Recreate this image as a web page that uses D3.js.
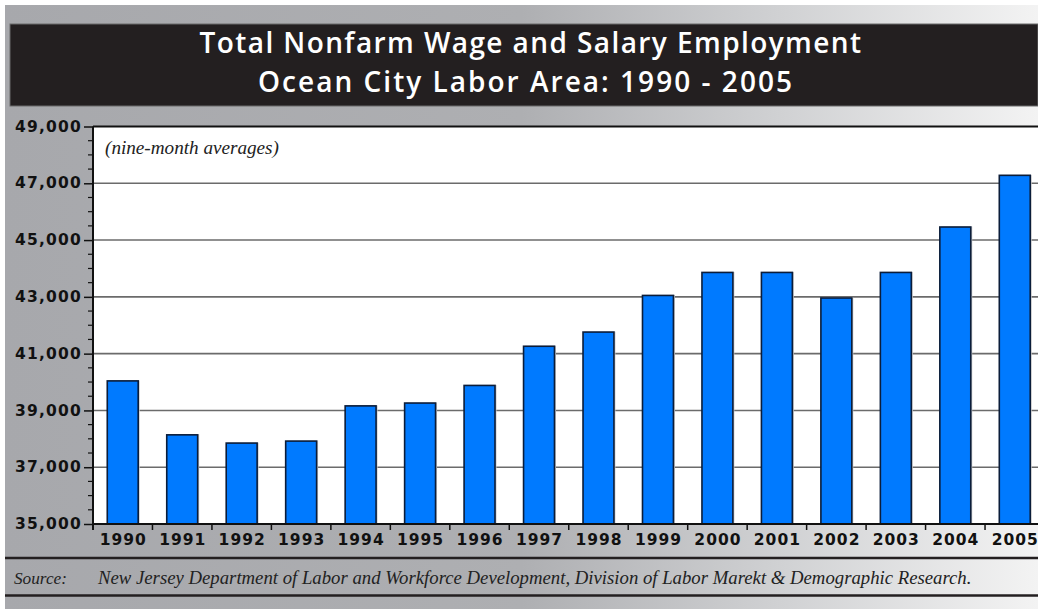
<!DOCTYPE html>
<html><head><meta charset="utf-8">
<script src="https://cdn.jsdelivr.net/npm/d3@7"></script>
<style>body{margin:0;background:#fff;overflow:hidden}svg{display:block}</style>
</head><body><svg id="c" width="1038" height="609"></svg>
<script>
const years = ["1990","1991","1992","1993","1994","1995","1996","1997","1998","1999","2000","2001","2002","2003","2004","2005"];
const employment = [40040, 38140, 37850, 37920, 39160, 39260, 39880, 41260, 41760, 43050, 43860, 43860, 42960, 43860, 45460, 47280];
const yTicks = [35000, 37000, 39000, 41000, 43000, 45000, 47000, 49000];
const titleLines = ["Total Nonfarm Wage and Salary Employment", "Ocean City Labor Area: 1990 - 2005"];
const noteText = "(nine-month averages)";
const sourceLabel = "Source:";
const sourceText = "New Jersey Department of Labor and Workforce Development, Division of Labor Marekt & Demographic Research.";

const svg = d3.select("#c");
const W = 1038, H = 609;
const plot = {left: 93, top: 126.5, right: 1044.5, bottom: 524};

function fit(el, base, target){
  const w = el.node().getComputedTextLength();
  el.attr("font-size", base*target/w);
}
function spread(el, target){
  const n = el.text().length;
  const w = el.node().getComputedTextLength();
  el.attr("letter-spacing", ((target - w)/n) + "px");
}

// background gradient
const defs = svg.append("defs");
const grad = defs.append("linearGradient").attr("id","bg").attr("x1","0%").attr("x2","100%").attr("y1","0").attr("y2","0");
grad.append("stop").attr("offset","0%").attr("stop-color","#a7a8ac");
grad.append("stop").attr("offset","50%").attr("stop-color","#aeafb2");
grad.append("stop").attr("offset","75%").attr("stop-color","#d0d1d3");
grad.append("stop").attr("offset","100%").attr("stop-color","#f3f3f3");
svg.append("rect").attr("x",5).attr("y",5).attr("width",W-5).attr("height",H-5).attr("fill","url(#bg)");

// title box
svg.append("rect").attr("x",10).attr("y",24).attr("width",W-10).attr("height",82)
  .attr("fill","#231f20").attr("stroke","#6a6a6a").attr("stroke-width",1);
const tt = svg.append("g").attr("font-family","'Open Sans', Lato, sans-serif").attr("font-weight",600).attr("fill","#fff").attr("text-anchor","middle");
const titleTargets = [663, 536];
const titleBase = [53, 92];
const titleCx = [531, 526];
titleLines.forEach((t,i)=>{
  const el = tt.append("text").attr("x",titleCx[i]).attr("y",titleBase[i]).attr("font-size",28).text(t);
  spread(el, titleTargets[i]);
});

// scales
const x = d3.scaleBand().domain(years).range([plot.left, plot.right]).paddingInner(0.48).paddingOuter(0.24);
const y = d3.scaleLinear().domain([35000, 49000]).range([plot.bottom, plot.top]);

// plot area
svg.append("rect").attr("x",plot.left).attr("y",plot.top).attr("width",W-plot.left).attr("height",plot.bottom-plot.top).attr("fill","#fff");

// gridlines
svg.append("g").selectAll("line").data(yTicks.filter(d=>d>35000 && d<49000)).join("line")
  .attr("x1",plot.left).attr("x2",W).attr("y1",d=>y(d)).attr("y2",d=>y(d))
  .attr("stroke","#6b6b6b").attr("stroke-width",1.6);
// top border
svg.append("line").attr("x1",plot.left).attr("x2",W).attr("y1",y(49000)).attr("y2",y(49000)).attr("stroke","#111").attr("stroke-width",2);

// note
const note = svg.append("text").attr("x",105).attr("y",154).attr("font-family","'Liberation Serif', serif").attr("font-style","italic")
  .attr("font-size",17).attr("fill","#222").text(noteText);
fit(note, 17, 174);

// bars
const bars = svg.append("g");
bars.selectAll("rect.sh").data(years).join("rect").attr("class","sh")
  .attr("x",d=>x(d)+1.5).attr("y",(d,i)=>y(employment[i])-0.5).attr("width",x.bandwidth()).attr("height",(d,i)=>plot.bottom-y(employment[i]))
  .attr("fill","#c9c9c9");
bars.selectAll("rect.b").data(years).join("rect").attr("class","b")
  .attr("x",d=>x(d)).attr("y",(d,i)=>y(employment[i])).attr("width",x.bandwidth()).attr("height",(d,i)=>plot.bottom-y(employment[i]))
  .attr("fill","#007aff").attr("stroke","#0b1d3a").attr("stroke-width",1.6);

// y axis
const yAxis = d3.axisLeft(y).tickValues(yTicks).tickSize(9).tickFormat(d3.format(","));
const ga = svg.append("g").attr("transform",`translate(${plot.left},0)`).call(yAxis);
ga.select(".domain").remove();
ga.selectAll(".tick line").attr("stroke","#111").attr("stroke-width",1.5);
ga.selectAll(".tick text").attr("x",-11).attr("dy","0.3em").attr("font-family","'DejaVu Sans', sans-serif").attr("font-weight","bold")
  .attr("font-size",15.5).attr("letter-spacing","1.2px").attr("fill","#111");
// minor ticks
const minor = d3.range(35500, 49000, 500).filter(v=>(v-35000)%2000!==0);
svg.append("g").selectAll("line").data(minor).join("line")
  .attr("x1",plot.left-5).attr("x2",plot.left).attr("y1",d=>y(d)).attr("y2",d=>y(d)).attr("stroke","#111").attr("stroke-width",1.2);
svg.append("line").attr("x1",plot.left).attr("x2",plot.left).attr("y1",plot.top).attr("y2",plot.bottom+6).attr("stroke","#111").attr("stroke-width",2);

// x axis
svg.append("line").attr("x1",plot.left).attr("x2",W).attr("y1",plot.bottom).attr("y2",plot.bottom).attr("stroke","#111").attr("stroke-width",2);
svg.append("g").selectAll("line").data(years.slice(1)).join("line")
  .attr("x1",d=>x(d)-x.step()*0.24).attr("x2",d=>x(d)-x.step()*0.24).attr("y1",plot.bottom).attr("y2",plot.bottom+6)
  .attr("stroke","#111").attr("stroke-width",1.5);
svg.append("g").selectAll("text").data(years).join("text")
  .attr("x",d=>x(d)+x.bandwidth()/2+0.5).attr("y",545).attr("text-anchor","middle")
  .attr("font-family","'DejaVu Sans', sans-serif").attr("font-weight","bold").attr("font-size",15.5).attr("letter-spacing","1px")
  .attr("fill","#111").text(d=>d);

// source section
[558, 595.5].forEach(yy=>svg.append("line").attr("x1",5).attr("x2",W).attr("y1",yy).attr("y2",yy).attr("stroke","#231f20").attr("stroke-width",2.5));
const sg = svg.append("g").attr("font-family","'Liberation Serif', serif").attr("font-style","italic").attr("fill","#222");
const sl = sg.append("text").attr("x",14).attr("y",584).attr("font-size",17).text(sourceLabel);
fit(sl, 17, 53);
const st = sg.append("text").attr("x",98).attr("y",584).attr("font-size",17).text(sourceText);
fit(st, 17, 874);
</script></body></html>
